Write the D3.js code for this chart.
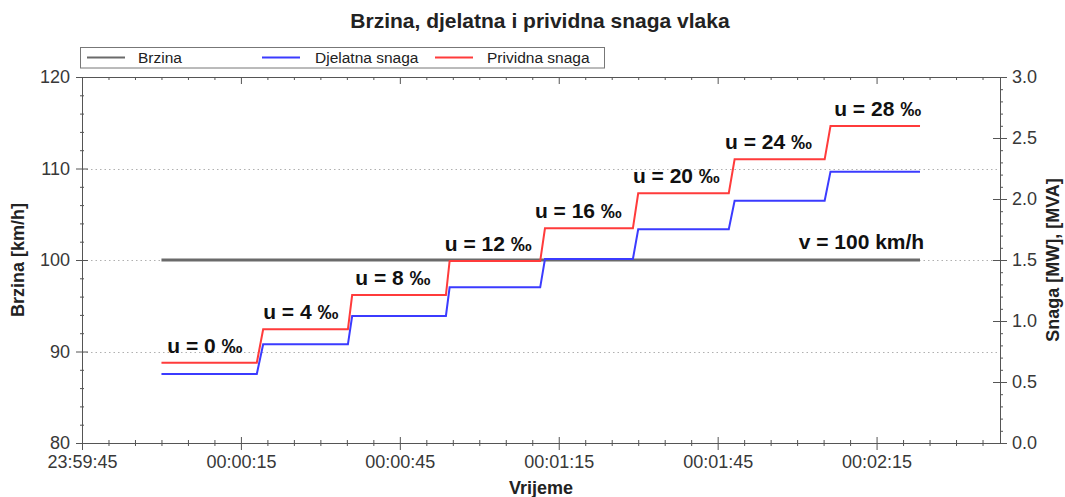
<!DOCTYPE html>
<html><head><meta charset="utf-8">
<script src="https://cdn.jsdelivr.net/npm/d3@7"></script>
<style>
body{margin:0;background:#fff}
text{font-family:Arial,"Liberation Sans",sans-serif}
</style></head>
<body><svg id="c" width="1065" height="497"></svg>
<script>
// ---- data ----
const gradeLabels = ["u = 0 ‰","u = 4 ‰","u = 8 ‰","u = 12 ‰","u = 16 ‰","u = 20 ‰","u = 24 ‰","u = 28 ‰"];
// seconds relative to 00:00:00
const segStart = [0, 18.0, 35.2, 53.7, 71.5, 89.0, 107.1, 125.2];
const rampEnd  = [null, 19.2, 36.0, 54.4, 72.4, 90.0, 108.2, 126.3];
const segEndTime = 143.2;
const speedValue = 100;
const activePower   = [0.566, 0.809, 1.041, 1.276, 1.508, 1.752, 1.986, 2.224];
const apparentPower = [0.658, 0.932, 1.213, 1.492, 1.760, 2.047, 2.325, 2.598];
const labelTimes = [1.1, 19.2, 36.6, 53.5, 70.5, 89.0, 106.4, 127.0];
const speedLabel = "v = 100 km/h";
const speedLabelTime = 120.3;
const xDomain = [-15, 158.3];
const xTickValues = [-15, 15, 45, 75, 105, 135];
const xTickLabels = ["23:59:45","00:00:15","00:00:45","00:01:15","00:01:45","00:02:15"];
const leftTicks = [80, 90, 100, 110, 120];
const leftGrid = [90, 100, 110];
const rightTicks = [0, 0.5, 1.0, 1.5, 2.0, 2.5, 3.0];
const rightTickLabels = ["0.0","0.5","1.0","1.5","2.0","2.5","3.0"];
const seriesNames = ["Brzina","Djelatna snaga","Prividna snaga"];
const seriesColors = ["#6a6a6a","#3b3bff","#ff3b3b"];

// ---- layout ----
const L = 82, R = 1000, T = 77, B = 443;
const svg = d3.select("#c");
const x = d3.scaleLinear().domain(xDomain).range([L, R]);
const yL = d3.scaleLinear().domain([80, 120]).range([B, T]);
const yR = d3.scaleLinear().domain([0, 3]).range([B, T]);

// grid
svg.append("g").selectAll("line").data(leftGrid).join("line")
  .attr("x1", L).attr("x2", R)
  .attr("y1", d => Math.round(yL(d)) + 0.5).attr("y2", d => Math.round(yL(d)) + 0.5)
  .attr("stroke", "#b0b0b0").attr("stroke-dasharray", "1.5,3").attr("stroke-width", 1);

function styleAxis(g){
  g.select(".domain").attr("stroke", "#555");
  g.selectAll(".tick line").attr("stroke", "#555");
  g.selectAll(".tick text").attr("fill", "#383838").style("font-size", "18px");
}
const xMinor = d3.range(-15, 158.3, 5).filter(d => !xTickValues.includes(d));

// bottom axis
const gB = svg.append("g").attr("transform", `translate(0,${B})`)
  .call(d3.axisBottom(x).tickValues(xTickValues).tickFormat((d, i) => xTickLabels[i]).tickSizeOuter(0));
styleAxis(gB);
gB.selectAll(".tick line").attr("y1", -6).attr("y2", 7);
gB.selectAll(".tick text").attr("y", 25).attr("dy", 0);
const gBm = svg.append("g").attr("transform", `translate(0,${B})`)
  .call(d3.axisBottom(x).tickValues(xMinor).tickFormat("").tickSizeOuter(0));
styleAxis(gBm);
gBm.selectAll(".tick line").attr("y1", -3).attr("y2", 3);

// top axis
const gT = svg.append("g").attr("transform", `translate(0,${T})`)
  .call(d3.axisTop(x).tickValues(xTickValues).tickFormat("").tickSizeOuter(0));
styleAxis(gT);
gT.selectAll(".tick line").attr("y1", 0).attr("y2", 7);
const gTm = svg.append("g").attr("transform", `translate(0,${T})`)
  .call(d3.axisTop(x).tickValues(xMinor).tickFormat("").tickSizeOuter(0));
styleAxis(gTm);
gTm.selectAll(".tick line").attr("y1", 0).attr("y2", 3);

// left axis
const gLft = svg.append("g").attr("transform", `translate(${L},0)`)
  .call(d3.axisLeft(yL).tickValues(leftTicks).tickFormat(d3.format("d")).tickSizeOuter(0));
styleAxis(gLft);
gLft.selectAll(".tick line").attr("x1", -6).attr("x2", 6);
gLft.selectAll(".tick text").attr("x", -12);
const gLm = svg.append("g").attr("transform", `translate(${L},0)`)
  .call(d3.axisLeft(yL).tickValues(d3.range(82, 120, 2).filter(d => d % 10 !== 0)).tickFormat("").tickSizeOuter(0));
styleAxis(gLm);
gLm.selectAll(".tick line").attr("x1", -2).attr("x2", 2);

// right axis
const gRt = svg.append("g").attr("transform", `translate(${R},0)`)
  .call(d3.axisRight(yR).tickValues(rightTicks).tickFormat((d, i) => rightTickLabels[i]).tickSizeOuter(0));
styleAxis(gRt);
gRt.selectAll(".tick line").attr("x1", -7).attr("x2", 7);
gRt.selectAll(".tick text").attr("x", 12);
const rMinor = d3.range(1, 30).filter(d => d % 5 !== 0).map(d => d / 10);
const gRm = svg.append("g").attr("transform", `translate(${R},0)`)
  .call(d3.axisRight(yR).tickValues(rMinor).tickFormat("").tickSizeOuter(0));
styleAxis(gRm);
gRm.selectAll(".tick line").attr("x1", 0).attr("x2", 3);

// series
function stepPoints(vals){
  const pts = [[segStart[0], vals[0]]];
  for (let i = 1; i < vals.length; i++) {
    pts.push([segStart[i], vals[i - 1]]);
    pts.push([rampEnd[i], vals[i]]);
  }
  pts.push([segEndTime, vals[vals.length - 1]]);
  return pts;
}
const lineR = d3.line().x(d => x(d[0])).y(d => yR(d[1]));
const lineL = d3.line().x(d => x(d[0])).y(d => yL(d[1]));

svg.append("path").datum([[segStart[0], speedValue], [segEndTime, speedValue]])
  .attr("d", lineL).attr("fill", "none").attr("stroke", seriesColors[0]).attr("stroke-width", 3);
svg.append("path").datum(stepPoints(activePower))
  .attr("d", lineR).attr("fill", "none").attr("stroke", seriesColors[1]).attr("stroke-width", 2);
svg.append("path").datum(stepPoints(apparentPower))
  .attr("d", lineR).attr("fill", "none").attr("stroke", seriesColors[2]).attr("stroke-width", 2);

// annotations
svg.append("g").selectAll("text").data(gradeLabels).join("text")
  .attr("x", (d, i) => x(labelTimes[i]))
  .attr("y", (d, i) => yR(apparentPower[i]) - 10)
  .attr("font-size", 21).attr("font-weight", "bold").attr("fill", "#111")
  .text(d => d);
svg.append("text").attr("x", x(speedLabelTime)).attr("y", yL(speedValue) - 11)
  .attr("font-size", 21).attr("font-weight", "bold").attr("fill", "#111").text(speedLabel);

// title & axis titles
svg.append("text").attr("x", 540).attr("y", 28).attr("text-anchor", "middle")
  .attr("font-size", 21).attr("font-weight", "bold").attr("fill", "#222")
  .text("Brzina, djelatna i prividna snaga vlaka");
svg.append("text").attr("x", (L + R) / 2).attr("y", 494).attr("text-anchor", "middle")
  .attr("font-size", 18).attr("font-weight", "bold").attr("fill", "#222").text("Vrijeme");
svg.append("text").attr("transform", `translate(24,${(T + B) / 2}) rotate(-90)`).attr("text-anchor", "middle")
  .attr("font-size", 18).attr("font-weight", "bold").attr("fill", "#222").text("Brzina [km/h]");
svg.append("text").attr("transform", `translate(1059,${(T + B) / 2}) rotate(-90)`).attr("text-anchor", "middle")
  .attr("font-size", 18).attr("font-weight", "bold").attr("fill", "#222").text("Snaga [MW], [MVA]");

// legend
const lg = svg.append("g");
lg.append("rect").attr("x", 80.5).attr("y", 47.5).attr("width", 524).attr("height", 20.5)
  .attr("fill", "#fff").attr("stroke", "#777");
const legX = [87, 262, 435];
const legTextX = [138, 315, 487];
seriesNames.forEach((n, i) => {
  lg.append("line").attr("x1", legX[i]).attr("x2", legX[i] + 38).attr("y1", 57.5).attr("y2", 57.5)
    .attr("stroke", seriesColors[i]).attr("stroke-width", 2);
  lg.append("text").attr("x", legTextX[i]).attr("y", 63).attr("font-size", 15.5).attr("fill", "#222").text(n);
});
</script></body></html>
